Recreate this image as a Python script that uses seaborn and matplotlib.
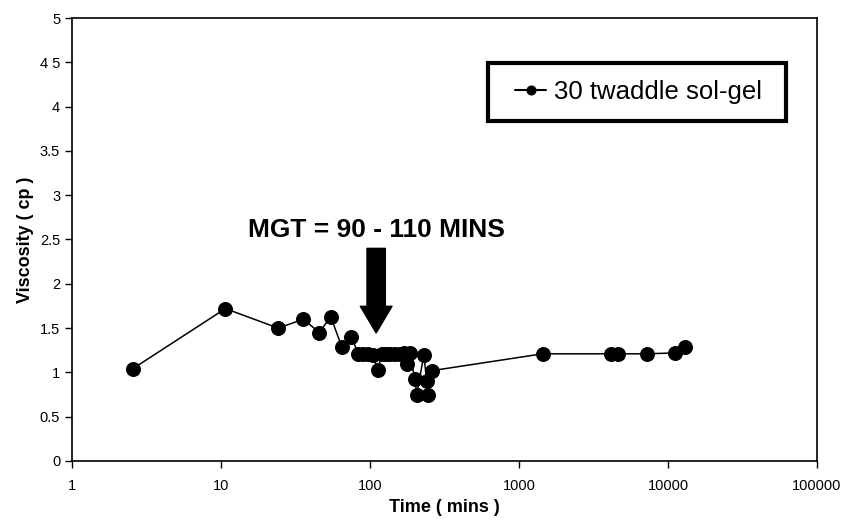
import pandas as pd
import seaborn as sns
import matplotlib.pyplot as plt
from matplotlib.patches import Rectangle

sns.set_theme(style="white")
plt.rcParams['font.family'] = ['Liberation Sans', 'DejaVu Sans']
plt.rcParams['text.color'] = 'black'

# datos
time_mins = [2.55, 10.7, 24.2, 35.7, 45.7, 54.5, 64.6, 75,
             83.5, 90, 97, 104, 113, 120, 128, 137, 147, 158, 168, 176,
             185, 200, 206, 230, 240, 246, 261,
             1442, 4124, 4644, 7190, 11200, 13000]
viscosity = [1.04, 1.72, 1.50, 1.60, 1.45, 1.63, 1.29, 1.40,
             1.21, 1.21, 1.21, 1.20, 1.03, 1.21, 1.21, 1.21, 1.21, 1.21, 1.22, 1.10,
             1.22, 0.92, 0.75, 1.20, 0.90, 0.75, 1.02,
             1.21, 1.21, 1.21, 1.21, 1.22, 1.29]
xticks = [1, 10, 100, 1000, 10000, 100000]
yticks = [0, 0.5, 1, 1.5, 2, 2.5, 3, 3.5, 4, 4.5, 5]
ytick_labels = ['0', '0.5', '1', '1.5', '2', '2.5', '3', '3.5', '4', '4 5', '5']

df = pd.DataFrame({'time': time_mins, 'visc': viscosity})

fig = plt.figure(figsize=(8.46, 5.23), dpi=100)
ax = fig.add_axes([72/846, 1 - 461/523, 745/846, 443/523])

sns.lineplot(data=df, x='time', y='visc', ax=ax, sort=False, estimator=None,
             color='black', linewidth=1.1, marker='o', markersize=10,
             markeredgecolor='black', label='30 twaddle sol-gel')

ax.set_xscale('log')
ax.set_xlim(1, 100000)
ax.set_ylim(0, 5)
ax.set_xticks(xticks)
ax.set_xticklabels([str(t) for t in xticks])
ax.minorticks_off()
ax.set_yticks(yticks)
ax.set_yticklabels(ytick_labels)
ax.tick_params(axis='both', direction='out', length=5, width=1, color='black',
               labelsize=10.5, labelcolor='black', bottom=True, left=True)
ax.tick_params(axis='x', pad=8)

for s in ax.spines.values():
    s.set_color('black')
    s.set_linewidth(1.2)

ax.set_xlabel('Time ( mins )', fontsize=13, fontweight='bold', color='black')
ax.set_ylabel('Viscosity ( cp )', fontsize=13, fontweight='bold', color='black')

# flecha y texto MGT
ax.annotate('', xy=(110, 1.445), xytext=(110, 2.40),
            arrowprops=dict(arrowstyle='simple,head_length=1.6,head_width=1.9,tail_width=1.1',
                            color='black', shrinkA=0, shrinkB=0))
ax.text(110, 2.61, 'MGT = 90 - 110 MINS', ha='center', va='center',
        fontsize=19, fontweight='bold', color='black')

# leyenda con marco propio (como Excel)
ax.add_patch(Rectangle((0.5584, 0.7675), 0.40, 0.1309, transform=ax.transAxes,
                       fill=False, edgecolor='black', linewidth=3, zorder=5))
leg = ax.legend(loc='center', bbox_to_anchor=(0.7605, 0.833), fontsize=18.5,
                frameon=False, handlelength=1.2, markerscale=0.65,
                handletextpad=0.3, borderpad=0, borderaxespad=0,
                labelcolor='black')
for h in leg.legend_handles:
    h.set_linewidth(1.5)

fig.savefig('out.png', dpi=100)
